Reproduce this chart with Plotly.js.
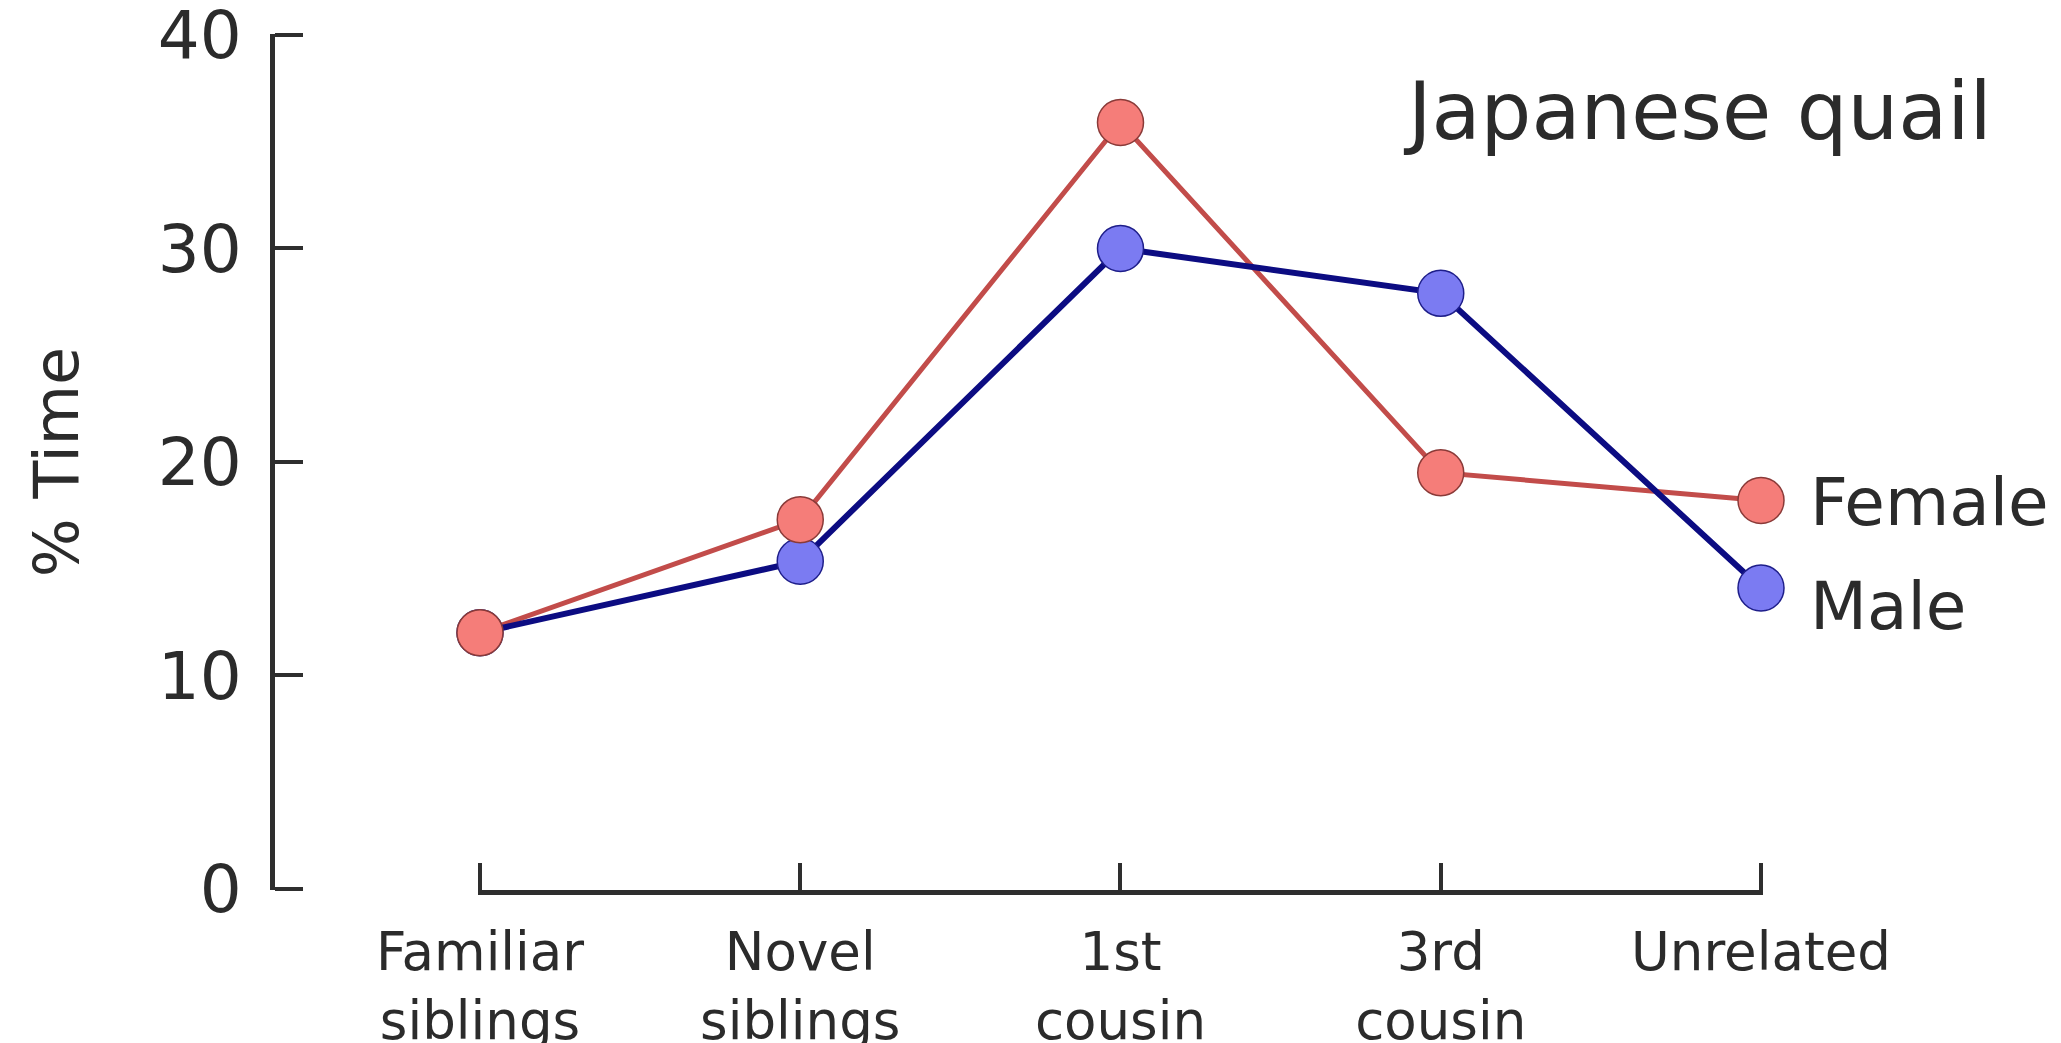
<!DOCTYPE html>
<html>
<head>
<meta charset="utf-8">
<script src="https://cdn.plot.ly/plotly-3.0.1.min.js"></script>
<style>html,body{margin:0;padding:0;background:#fff;}#chart{width:2061px;height:1043px;}</style>
</head>
<body>
<div id="chart"></div>
<script>
const categories = ["Familiar<br>siblings", "Novel<br>siblings", "1st<br>cousin", "3rd<br>cousin", "Unrelated"];
const femaleValues = [12.0, 17.3, 35.9, 19.5, 18.2];
const maleValues = [12.0, 15.35, 30.0, 27.9, 14.1];
const yTickValues = [0, 10, 20, 30, 40];
const seriesNames = ["Female", "Male"];
const chartTitle = "Japanese quail";
const yTitle = "% Time";

const W = 2061, H = 1043;
const femaleLine = "#c24c4a", femaleFill = "#f57d79", femaleEdge = "#8a3a38";
const maleLine = "#0c0c82", maleFill = "#7b7bf2", maleEdge = "#1e1e8a";
const axisColor = "#2e2e2e";
const font = "DejaVu Sans, Verdana, sans-serif";

// pixel geometry: y value 0 at y=889, 40 at y=35; first category at x=480, last at x=1761
const y0px = 889, y40px = 35, yPad = 0.06;
const pxPerUnit = (y0px - y40px) / 40;
const xFirst = 480, xLast = 1761, xPad = 0.006;
const pxPerCat = (xLast - xFirst) / 4;

const traces = [
  {x: categories, y: femaleValues, mode: "lines", line: {color: femaleLine, width: 5}, hoverinfo: "skip", cliponaxis: false, showlegend: false, name: seriesNames[0]},
  {x: categories, y: maleValues, mode: "lines", line: {color: maleLine, width: 6}, hoverinfo: "skip", cliponaxis: false, showlegend: false, name: seriesNames[1]},
  {x: categories, y: maleValues, mode: "markers", marker: {size: 46, color: maleFill, line: {color: maleEdge, width: 1.5}}, cliponaxis: false, showlegend: false, name: seriesNames[1]},
  {x: categories, y: femaleValues, mode: "markers", marker: {size: 46, color: femaleFill, line: {color: femaleEdge, width: 1.5}}, cliponaxis: false, showlegend: false, name: seriesNames[0]}
];

const layout = {
  width: W, height: H,
  margin: {l: 0, r: 0, t: 0, b: 0, pad: 0},
  paper_bgcolor: "#ffffff", plot_bgcolor: "rgba(0,0,0,0)",
  font: {family: font, color: "#2b2b2b"},
  xaxis: {
    type: "category", categoryorder: "array", categoryarray: categories,
    domain: [(xFirst - xPad * pxPerCat) / W, (xLast + xPad * pxPerCat) / W],
    range: [-xPad, 4 + xPad],
    showgrid: false, zeroline: false,
    showline: true, linecolor: axisColor, linewidth: 5,
    ticks: "inside", ticklen: 27, tickwidth: 4, tickcolor: axisColor,
    tickfont: {size: 53, family: font, color: "#2b2b2b"},
    ticklabelstandoff: 11, ticklabeloverflow: "allow",
    anchor: "y", automargin: false, fixedrange: true
  },
  yaxis: {
    domain: [(H - (y0px + yPad * pxPerUnit)) / H, (H - (y40px - yPad * pxPerUnit)) / H],
    range: [-yPad, 40 + yPad],
    anchor: "free", position: 272 / W,
    tickmode: "array", tickvals: yTickValues, ticktext: yTickValues.map(String),
    showgrid: false, zeroline: false,
    showline: true, linecolor: axisColor, linewidth: 5,
    ticks: "inside", ticklen: 28, tickwidth: 4, tickcolor: axisColor,
    tickfont: {size: 66, family: font, color: "#2b2b2b"},
    ticklabelstandoff: 15, ticklabeloverflow: "allow",
    title: {text: yTitle, font: {size: 62, family: font, color: "#2b2b2b"}, standoff: 58},
    automargin: false, fixedrange: true
  },
  annotations: [
    {xref: "paper", yref: "paper", x: 1697 / W, y: (H - 112) / H, xanchor: "center", yanchor: "middle", text: chartTitle, showarrow: false, font: {size: 80, family: font, color: "#2b2b2b"}},
    {xref: "paper", yref: "paper", x: 1808 / W, y: (H - 502) / H, xanchor: "left", yanchor: "middle", text: seriesNames[0], showarrow: false, font: {size: 66, family: font, color: "#2b2b2b"}},
    {xref: "paper", yref: "paper", x: 1808 / W, y: (H - 606) / H, xanchor: "left", yanchor: "middle", text: seriesNames[1], showarrow: false, font: {size: 66, family: font, color: "#2b2b2b"}}
  ],
  showlegend: false
};

Plotly.newPlot("chart", traces, layout, {displayModeBar: false, staticPlot: true});
</script>
</body>
</html>
